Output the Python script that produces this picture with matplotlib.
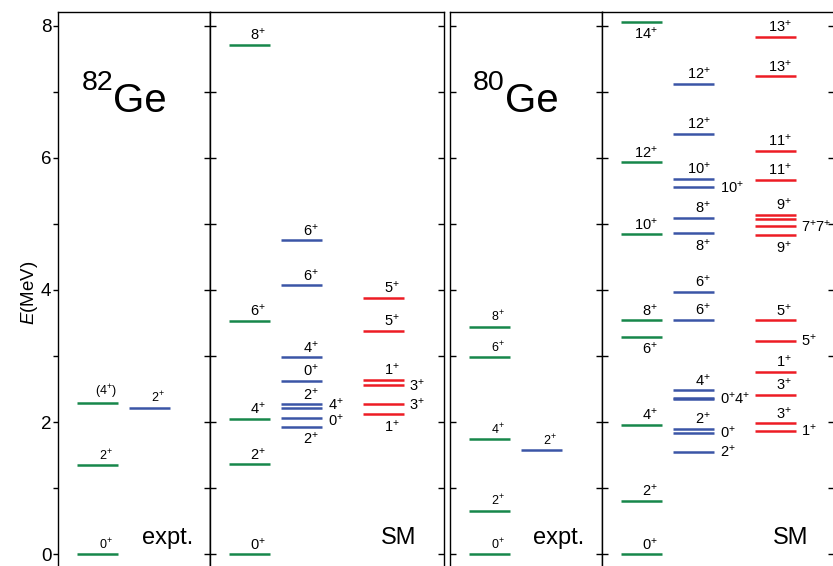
import matplotlib
matplotlib.use('Agg')
import matplotlib.pyplot as plt

plt.rcParams['font.family'] = ['Liberation Sans', 'DejaVu Sans']
plt.rcParams['mathtext.fontset'] = 'custom'
plt.rcParams['mathtext.rm'] = 'Liberation Sans'
plt.rcParams['mathtext.it'] = 'Liberation Sans:italic'
plt.rcParams['mathtext.bf'] = 'Liberation Sans:bold'

# ---------------- data (energies in MeV, spins) ----------------
# 82Ge experiment
ge82_expt_g_E = [0.0, 1.348, 2.287]
ge82_expt_g_J = ['0', '2', '(4)']
ge82_expt_b_E = [2.215]
ge82_expt_b_J = ['2']

# 82Ge shell model
ge82_sm_g_E = [0.0, 1.36, 2.05, 3.53, 7.71]
ge82_sm_g_J = ['0', '2', '4', '6', '8']
ge82_sm_g_P = ['a', 'a', 'a', 'a', 'a']
ge82_sm_b_E = [1.93, 2.06, 2.22, 2.27, 2.62, 2.98, 4.07, 4.75]
ge82_sm_b_J = ['2', '0', '4', '2', '0', '4', '6', '6']
ge82_sm_b_P = ['b', 'rd', 'ru', 'a', 'a', 'a', 'a', 'a']
ge82_sm_r_E = [2.12, 2.27, 2.56, 2.64, 3.38, 3.88]
ge82_sm_r_J = ['1', '3', '3', '1', '5', '5']
ge82_sm_r_P = ['b', 'r', 'r', 'a', 'a', 'a']

# 80Ge experiment
ge80_expt_g_E = [0.0, 0.659, 1.742, 2.978, 3.445]
ge80_expt_g_J = ['0', '2', '4', '6', '8']
ge80_expt_b_E = [1.573]
ge80_expt_b_J = ['2']

# 80Ge shell model
ge80_sm_g_E = [0.0, 0.81, 1.96, 3.29, 3.54, 4.84, 5.93, 8.06]
ge80_sm_g_J = ['0', '2', '4', '6', '8', '10', '12', '14']
ge80_sm_g_P = ['a', 'a', 'a', 'b', 'a', 'a', 'a', 'b']
ge80_sm_b_E = [1.55, 1.84, 1.90, 2.35, 2.37, 2.48, 3.55, 3.97,
               4.86, 5.09, 5.55, 5.68, 6.36, 7.12]
ge80_sm_b_J = ['2', '0', '2', '0,4', '', '4', '6', '6',
               '8', '8', '10', '10', '12', '12']
ge80_sm_b_P = ['r', 'r', 'a', 'r', 'n', 'a', 'a', 'a',
               'b', 'a', 'r', 'a', 'a', 'a']
ge80_sm_r_E = [1.87, 1.98, 2.41, 2.76, 3.23, 3.54, 4.83, 4.96,
               5.07, 5.14, 5.67, 6.10, 7.23, 7.83]
ge80_sm_r_J = ['1', '3', '3', '1', '5', '5', '9', '7,7',
               '', '9', '11', '11', '13', '13']
ge80_sm_r_P = ['r', 'a', 'a', 'a', 'r', 'a', 'b', 'r',
               'n', 'a', 'a', 'a', 'a', 'a']

y_major = [0, 2, 4, 6, 8]
y_minor = [1, 3, 5, 7]

# ---------------- style / layout ----------------
GREEN = '#17874a'
BLUE = '#3b55a6'
RED = '#ed1c24'
W, H = 833, 566
fig = plt.figure(figsize=(W / 100, H / 100), dpi=100)

ylo, yhi = -0.3, 8.2
ppm = 66.1
top_px = 12.3
h_px = (yhi - ylo) * ppm
ax_b = (H - (top_px + h_px)) / H
ax_h = h_px / H

panel_px = [(58.3, 210.0), (210.0, 444.0), (450.0, 602.0), (602.0, 834.0)]
col_x = [39.0, 91.5, 173.0]
half = 20.5


def spin_text(j):
    if j.startswith('('):
        return r'$(%s^{+})$' % j.strip('()')
    if ',' in j:
        return '$' + ''.join(r'%s^{+}' % p for p in j.split(',')) + '$'
    return r'$%s^{+}$' % j


def make_axes(i):
    l, r = panel_px[i]
    ax = fig.add_axes([l / W, ax_b, (r - l) / W, ax_h])
    ax.set_xlim(0, r - l)
    ax.set_ylim(ylo, yhi)
    ax.set_xticks([])
    ax.spines['bottom'].set_visible(False)
    for s in ['left', 'right', 'top']:
        ax.spines[s].set_linewidth(1.0)
    ax.set_yticks(y_major)
    ax.set_yticks(y_minor, minor=True)
    if i == 0:
        ax.tick_params(axis='y', which='both', direction='out', length=3.5,
                       width=1.0, left=True, right=False, labelsize=13.5, pad=1.5)
        sec = ax.secondary_yaxis('right')
        sec.set_yticks(y_major)
        sec.set_yticks(y_minor, minor=True)
        sec.tick_params(axis='y', which='both', direction='in', length=4.5,
                        width=1.0, labelright=False)
        sec.spines['right'].set_linewidth(1.0)
        ax.set_ylabel(r'$E$(MeV)', fontsize=13.5, labelpad=0.5)
    else:
        ax.tick_params(axis='y', which='both', direction='in', length=4.5,
                       width=1.0, left=True, right=True, labelleft=False)
    return ax


def draw_expt(ax, E, J, col, color):
    xc = col_x[col]
    for e, j in zip(E, J):
        ax.plot([xc - half, xc + half], [e, e], color=color, lw=1.8,
                solid_capstyle='butt')
        ax.annotate(spin_text(j), xy=(xc + 8.5, e), xytext=(0, 1.5),
                    textcoords='offset points', ha='center', va='bottom',
                    fontsize=9)


def draw_sm(ax, E, J, P, col, color):
    xc = col_x[col]
    for e, j, p in zip(E, J, P):
        ax.plot([xc - half, xc + half], [e, e], color=color, lw=1.8,
                solid_capstyle='butt')
        if p == 'n' or j == '':
            continue
        xr = xc + half
        if p == 'a':
            ax.annotate(spin_text(j), xy=(xr, e), xytext=(-2.5, 1.5),
                        textcoords='offset points', ha='right', va='bottom',
                        fontsize=10.5)
        elif p == 'b':
            ax.annotate(spin_text(j), xy=(xr, e), xytext=(-2.5, -3.0),
                        textcoords='offset points', ha='right', va='top',
                        fontsize=10.5)
        else:
            dy = {'r': 0.0, 'ru': 2.0, 'rd': -2.0}[p]
            ax.annotate(spin_text(j), xy=(xr, e), xytext=(4.0, dy),
                        textcoords='offset points', ha='left', va='center',
                        fontsize=10.5)


def nucleus_label(ax, mass):
    ax.text(23, 7.03, mass, fontsize=20.5, ha='left', va='baseline')
    ax.text(55, 6.69, 'Ge', fontsize=29, ha='left', va='baseline')


# panel 1: 82Ge expt
ax1 = make_axes(0)
draw_expt(ax1, ge82_expt_g_E, ge82_expt_g_J, 0, GREEN)
draw_expt(ax1, ge82_expt_b_E, ge82_expt_b_J, 1, BLUE)
nucleus_label(ax1, '82')
ax1.text(84, 0.16, 'expt.', fontsize=17, ha='left', va='baseline')

# panel 2: 82Ge SM
ax2 = make_axes(1)
draw_sm(ax2, ge82_sm_g_E, ge82_sm_g_J, ge82_sm_g_P, 0, GREEN)
draw_sm(ax2, ge82_sm_b_E, ge82_sm_b_J, ge82_sm_b_P, 1, BLUE)
draw_sm(ax2, ge82_sm_r_E, ge82_sm_r_J, ge82_sm_r_P, 2, RED)
ax2.text(171, 0.16, 'SM', fontsize=17, ha='left', va='baseline')

# panel 3: 80Ge expt
ax3 = make_axes(2)
draw_expt(ax3, ge80_expt_g_E, ge80_expt_g_J, 0, GREEN)
draw_expt(ax3, ge80_expt_b_E, ge80_expt_b_J, 1, BLUE)
nucleus_label(ax3, '80')
ax3.text(83, 0.16, 'expt.', fontsize=17, ha='left', va='baseline')

# panel 4: 80Ge SM
ax4 = make_axes(3)
draw_sm(ax4, ge80_sm_g_E, ge80_sm_g_J, ge80_sm_g_P, 0, GREEN)
draw_sm(ax4, ge80_sm_b_E, ge80_sm_b_J, ge80_sm_b_P, 1, BLUE)
draw_sm(ax4, ge80_sm_r_E, ge80_sm_r_J, ge80_sm_r_P, 2, RED)
ax4.text(170.5, 0.16, 'SM', fontsize=17, ha='left', va='baseline')

fig.savefig('out.png', dpi=100)
